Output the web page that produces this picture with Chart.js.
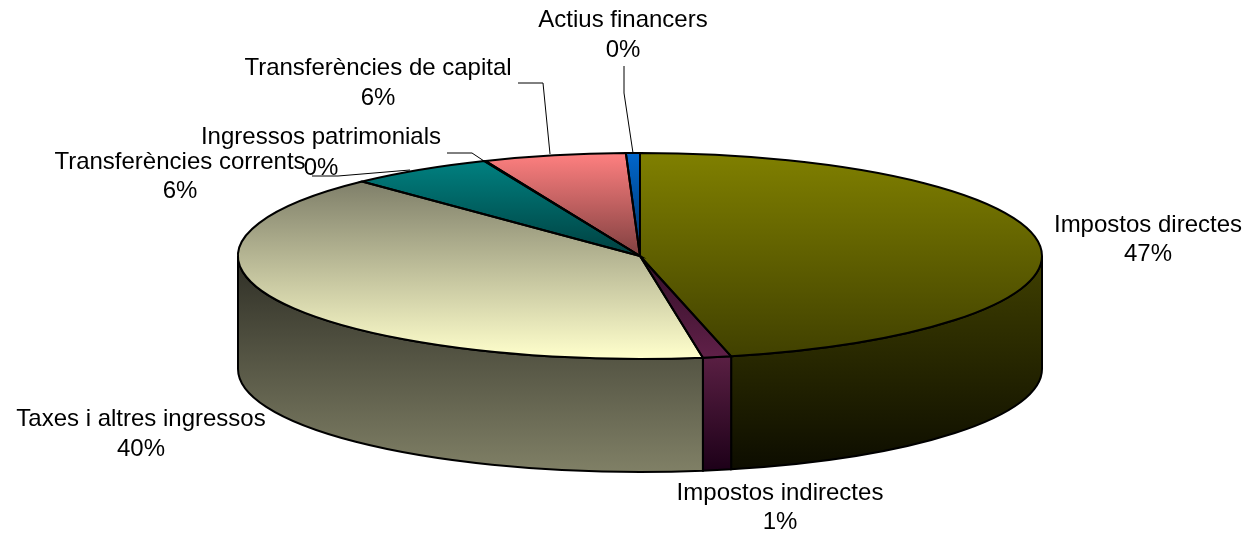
<!DOCTYPE html>
<html>
<head>
<meta charset="utf-8">
<style>
  body { margin: 0; background: #fff; }
  canvas { display: block; }
</style>
<script src="https://cdn.jsdelivr.net/npm/chart.js@4/dist/chart.umd.min.js"></script>
</head>
<body>
<canvas id="pie" width="1247" height="535"></canvas>
<script>
const categories = [
  "Impostos directes", "Impostos indirectes", "Taxes i altres ingressos",
  "Transferències corrents", "Ingressos patrimonials",
  "Transferències de capital", "Actius financers",
];
const values = [46.36, 1.14, 40.35, 5.82, 0.05, 5.72, 0.56];
const percentLabels = ["47%", "1%", "40%", "6%", "0%", "6%", "0%"];

// colors of the top face, from the top of the slice to its bottom
const topStart = ["#808000", "#330f28", "#80806a", "#008080", "#000000", "#ff8080", "#0066cc"];
const topEnd = ["#404000", "#602048", "#ffffcc", "#004040", "#000000", "#804040", "#003366"];
const topRange = [[153, 358], [256, 358], [183, 358], [161, 256], [161, 256], [153, 256], [153, 256]];
// colors of the side wall
const wallStart = ["#404000", "#8f3a68", "#2e2e25", "#004040", "#000000", "#804040", "#003366"];
const wallEnd = ["#0c0c00", "#1c0018", "#808066", "#002020", "#000000", "#402020", "#001a33"];

// where the labels sit: [x, y of name, y of percent]
const labelPos = [
  [1148, 225, 254], [780, 493, 522], [141, 419, 449], [180, 162, 191],
  [321, 137, 168], [378, 68, 98], [623, 20, 50],
];
const leaderLines = [
  [[624, 66], [624, 93], [633, 153]],
  [[518, 83], [543, 83], [550, 154]],
  [[447, 153], [472, 153], [484, 161]],
  [[312, 176], [338, 176], [410, 170]],
];

const centerX = 640;
const centerY = 256;
const radiusX = 402;
const radiusY = 103;
const depth = 113;
const baseRadius = 200;

const ctx = document.getElementById("pie").getContext("2d");

function topGradient(i) {
  // the pie is squashed while drawn, so the gradient is set in unsquashed y
  const sy = radiusY / baseRadius;
  const y0 = centerY + (topRange[i][0] - centerY) / sy;
  const y1 = centerY + (topRange[i][1] - centerY) / sy;
  const g = ctx.createLinearGradient(0, y0, 0, y1);
  g.addColorStop(0, topStart[i]);
  g.addColorStop(1, topEnd[i]);
  return g;
}

const pie3d = {
  id: "pie3d",
  beforeDatasetsDraw(chart) {
    const c = chart.ctx;
    const arcs = chart.getDatasetMeta(0).data;
    // side wall, only the front half of the rim can be seen
    arcs.forEach((arc, i) => {
      const a0 = Math.max(arc.startAngle, 0);
      const a1 = Math.min(arc.endAngle, Math.PI);
      if (a1 <= a0) return;
      const g = c.createLinearGradient(0, centerY, 0, centerY + radiusY + depth);
      g.addColorStop(0, wallStart[i]);
      g.addColorStop(1, wallEnd[i]);
      c.beginPath();
      c.ellipse(centerX, centerY, radiusX, radiusY, 0, a0, a1);
      c.ellipse(centerX, centerY + depth, radiusX, radiusY, 0, a1, a0, true);
      c.closePath();
      c.fillStyle = g;
      c.fill();
      c.strokeStyle = "#000";
      c.lineWidth = 2;
      c.stroke();
    });
    c.save();
    c.translate(centerX, centerY);
    c.scale(radiusX / baseRadius, radiusY / baseRadius);
    c.translate(-centerX, -centerY);
  },
  afterDatasetsDraw(chart) {
    const c = chart.ctx;
    c.restore();
    // outlines are drawn unsquashed so the line keeps an even width
    chart.getDatasetMeta(0).data.forEach((arc) => {
      c.beginPath();
      c.moveTo(centerX, centerY);
      c.ellipse(centerX, centerY, radiusX, radiusY, 0, arc.startAngle, arc.endAngle);
      c.closePath();
      c.strokeStyle = "#000";
      c.lineWidth = 2;
      c.stroke();
    });
  },
  afterDraw(chart) {
    const c = chart.ctx;
    c.strokeStyle = "#000";
    c.lineWidth = 1;
    leaderLines.forEach((line) => {
      c.beginPath();
      line.forEach((p, i) => (i ? c.lineTo(p[0], p[1]) : c.moveTo(p[0], p[1])));
      c.stroke();
    });
    c.fillStyle = "#000";
    c.font = '24px "Liberation Sans"';
    c.textAlign = "center";
    c.textBaseline = "middle";
    categories.forEach((name, i) => {
      const pos = labelPos[i];
      c.fillText(name, pos[0], pos[1]);
      c.fillText(percentLabels[i], pos[0], pos[2]);
    });
  },
};

new Chart(ctx, {
  type: "pie",
  plugins: [pie3d],
  data: {
    labels: categories,
    datasets: [{
      data: values,
      backgroundColor: values.map((v, i) => topGradient(i)),
      borderWidth: 0,
      clip: false,
    }],
  },
  options: {
    responsive: false,
    animation: false,
    layout: {
      padding: {
        left: centerX - baseRadius,
        right: 1247 - centerX - baseRadius,
        top: centerY - baseRadius,
        bottom: 535 - centerY - baseRadius,
      },
    },
    plugins: { legend: { display: false }, tooltip: { enabled: false } },
  },
});
</script>
</body>
</html>
